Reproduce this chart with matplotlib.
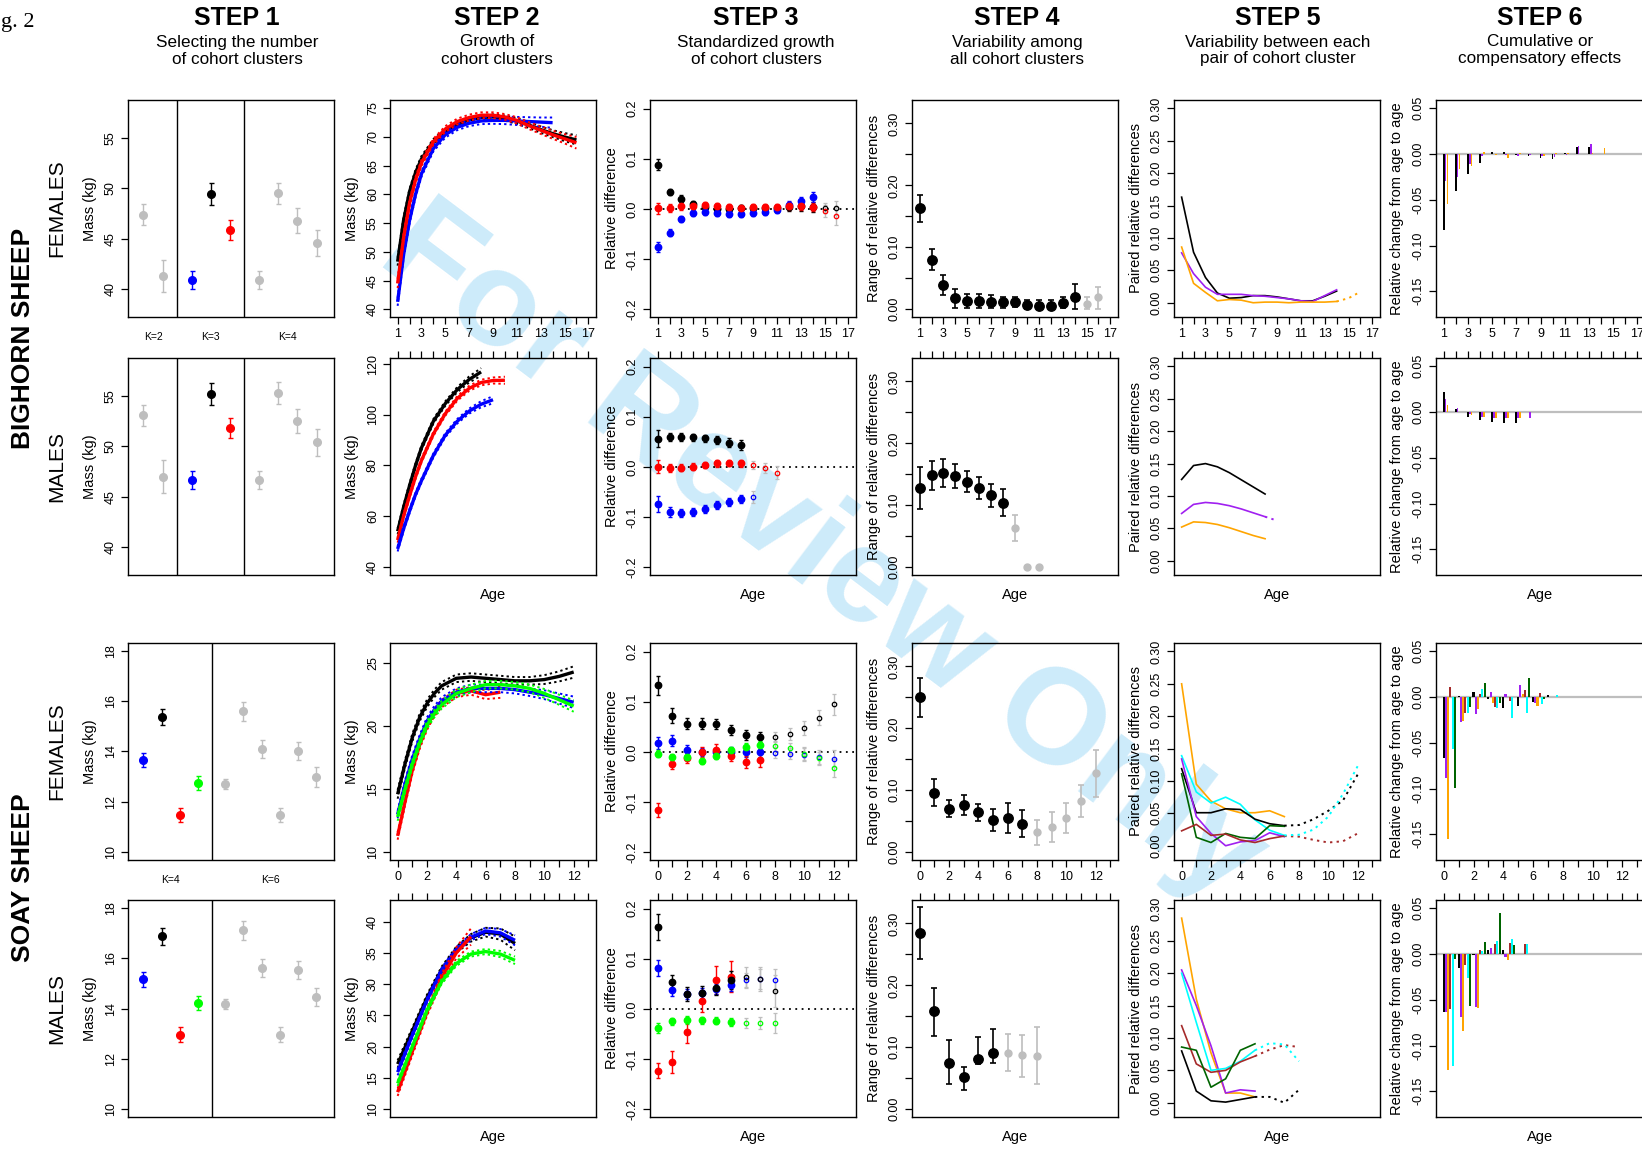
import matplotlib.pyplot as plt

plt.rcParams['font.family'] = ['Liberation Sans', 'DejaVu Sans']

W, H = 1642, 1151
GRAY = '#bebebe'
GREEN = '#00ff00'
PURPLE = '#a020f0'
ORANGE = '#ffa500'
CYAN = '#00ffff'
BROWN = '#a52a2a'
DKGREEN = '#006400'

# ---------------- titles
step_titles = ['STEP 1', 'STEP 2', 'STEP 3', 'STEP 4', 'STEP 5', 'STEP 6']
step_sub1 = ['Selecting the number', 'Growth of', 'Standardized growth',
             'Variability among', 'Variability between each', 'Cumulative or']
step_sub2 = ['of cohort clusters', 'cohort clusters', 'of cohort clusters',
             'all cohort clusters', 'pair of cohort cluster', 'compensatory effects']
ylabels = ['Mass (kg)', 'Mass (kg)', 'Relative difference',
           'Range of relative differences', 'Paired relative differences',
           'Relative change from age to age']

# ---------------- step 1 : cluster means for K candidates
s1_bh_x = [1, 2, 3.5, 4.5, 5.5, 7, 8, 9, 10]
s1_bh_div = [2.75, 6.25]
s1_bh_kx = [1.5, 4.5, 8.5]
s1_bh_klab = ['K=2', 'K=3', 'K=4']
s1_bh_col = [GRAY, GRAY, 'blue', 'black', 'red', GRAY, GRAY, GRAY, GRAY]
s1_bf_mass = [47.4, 41.3, 40.9, 49.4, 45.9, 40.9, 49.5, 46.8, 44.6]
s1_bf_err = [1.05, 1.6, 0.9, 1.1, 1.0, 0.9, 1.05, 1.2, 1.3]
s1_bm_mass = [53.1, 47.0, 46.7, 55.2, 51.8, 46.7, 55.35, 52.55, 50.4]
s1_bm_err = [1.05, 1.6, 0.9, 1.1, 1.0, 0.9, 1.1, 1.2, 1.35]

s1_so_x = [1, 2, 3, 4, 5.5, 6.5, 7.5, 8.5, 9.5, 10.5]
s1_so_div = [4.75]
s1_so_kx = [2.5, 8]
s1_so_klab = ['K=4', 'K=6']
s1_so_col = ['blue', 'black', 'red', GREEN] + [GRAY] * 6
s1_sf_mass = [13.66, 15.37, 11.48, 12.75, 12.72, 15.59, 14.11, 11.48, 14.02, 12.99]
s1_sf_err = [0.29, 0.32, 0.27, 0.27, 0.2, 0.38, 0.36, 0.27, 0.35, 0.38]
s1_sm_mass = [15.15, 16.86, 12.96, 14.23, 14.19, 17.1, 15.59, 12.96, 15.51, 14.46]
s1_sm_err = [0.29, 0.33, 0.29, 0.28, 0.2, 0.37, 0.36, 0.29, 0.36, 0.37]

# ---------------- step 2 : growth curves (fit, CI half width)
bf_age = [1, 1.5, 2, 2.5, 3, 4, 5, 6, 7, 8, 9, 10, 11, 12, 13, 14, 15, 16]
bf_black = [48.3, 55.5, 60.5, 63.8, 66.2, 69.2, 71.0, 72.2, 73.0, 73.4, 73.5, 73.3, 72.8, 72.1, 71.3, 70.6, 70.0, 69.5]
bf_black_ci = [0.7, 0.6, 0.5, 0.5, 0.5, 0.45, 0.45, 0.45, 0.45, 0.45, 0.45, 0.45, 0.5, 0.5, 0.55, 0.6, 0.7, 0.8]
bf_red = [44.5, 52.5, 58.5, 62.5, 65.5, 69.2, 71.4, 72.7, 73.4, 73.8, 73.8, 73.5, 72.9, 72.0, 71.2, 70.4, 69.7, 69.0]
bf_red_ci = [0.8, 0.7, 0.6, 0.55, 0.55, 0.5, 0.5, 0.5, 0.5, 0.5, 0.5, 0.5, 0.55, 0.6, 0.65, 0.7, 0.8, 1.0]
bf_blue = [41.3, 49.5, 55.5, 60.0, 63.6, 68.0, 70.4, 71.7, 72.4, 72.8, 72.9, 72.9, 72.8, 72.7, 72.6, 72.5]
bf_blue_ci = [0.7, 0.6, 0.55, 0.5, 0.5, 0.5, 0.5, 0.5, 0.5, 0.55, 0.6, 0.65, 0.7, 0.75, 0.8, 0.9]

bm_age = [1, 1.5, 2, 2.5, 3, 4, 5, 6, 7, 8, 9, 10]
bm_black = [54, 63.5, 72, 80, 87, 97.5, 104.5, 110, 114, 117]
bm_black_ci = [1.2, 1.0, 1.0, 0.9, 0.9, 0.9, 0.9, 1.0, 1.2, 1.5]
bm_red = [50.5, 60, 68, 75.5, 82, 92.5, 100.5, 106.5, 110.5, 112.8, 113.6, 113.7]
bm_red_ci = [1.0, 0.9, 0.9, 0.8, 0.8, 0.8, 0.8, 0.9, 1.0, 1.1, 1.2, 1.4]
bm_blue = [47, 55, 62, 68.5, 74, 84, 92, 97.5, 101.5, 104.2, 106]
bm_blue_ci = [1.0, 0.9, 0.9, 0.8, 0.8, 0.8, 0.8, 0.9, 1.0, 1.2, 1.4]

sf_age = [0, 0.5, 1, 1.5, 2, 2.5, 3, 4, 5, 6, 7, 8, 9, 10, 11, 12]
sf_black = [14.6, 17.0, 19.1, 20.7, 21.8, 22.6, 23.2, 23.8, 23.9, 23.8, 23.7, 23.6, 23.6, 23.7, 23.95, 24.3]
sf_black_ci = [0.35, 0.3, 0.3, 0.3, 0.3, 0.3, 0.3, 0.3, 0.3, 0.3, 0.3, 0.3, 0.3, 0.35, 0.4, 0.45]
sf_red = [11.3, 14.0, 16.5, 18.5, 20.0, 21.1, 21.8, 22.6, 22.8, 22.5, 22.7]
sf_red_ci = [0.3, 0.3, 0.3, 0.3, 0.3, 0.3, 0.3, 0.3, 0.3, 0.35, 0.45]
sf_blue = [13.0, 15.4, 17.4, 19.0, 20.4, 21.3, 22.0, 22.7, 23.0, 23.0, 23.0, 22.9, 22.7, 22.5, 22.2, 21.9]
sf_blue_ci = [0.3, 0.3, 0.3, 0.3, 0.3, 0.3, 0.3, 0.3, 0.3, 0.3, 0.3, 0.3, 0.3, 0.35, 0.4, 0.45]
sf_green = [12.8, 15.0, 17.0, 18.7, 20.1, 21.0, 21.7, 22.6, 23.0, 23.3, 23.3, 23.2, 23.0, 22.6, 22.1, 21.6]
sf_green_ci = [0.3, 0.3, 0.3, 0.3, 0.3, 0.3, 0.3, 0.3, 0.3, 0.3, 0.3, 0.3, 0.3, 0.35, 0.4, 0.45]

sm_age = [0, 1, 2, 3, 4, 5, 6, 7, 8]
sm_black = [17.2, 22.5, 27.8, 32.3, 35.5, 37.4, 38.3, 38.0, 36.5]
sm_black_ci = [0.6, 0.5, 0.5, 0.5, 0.5, 0.6, 0.7, 0.9, 1.1]
sm_blue = [15.9, 21.8, 27.4, 32.2, 35.5, 37.5, 38.5, 38.2, 37.0]
sm_blue_ci = [0.5, 0.4, 0.4, 0.4, 0.4, 0.5, 0.5, 0.6, 0.8]
sm_red = [12.7, 19.2, 25.5, 31.0, 35.0, 37.6]
sm_red_ci = [0.6, 0.6, 0.6, 0.7, 0.9, 1.3]
sm_green = [14.1, 20.0, 25.8, 30.4, 33.3, 34.8, 35.2, 34.8, 33.8]
sm_green_ci = [0.4, 0.4, 0.4, 0.4, 0.4, 0.4, 0.4, 0.5, 0.6]

# ---------------- step 3 : standardized growth (relative difference)
s3_bf_age = list(range(1, 15))
s3_bf_late_age = [15, 16]
s3_bf_black = [0.088, 0.033, 0.020, 0.010, 0.003, 0.0, 0.0, 0.001, 0.001, 0.001, 0.001, 0.004, 0.005, 0.004]
s3_bf_black_err = [0.011, 0.006, 0.007, 0.006, 0.006, 0.006, 0.006, 0.006, 0.006, 0.006, 0.007, 0.008, 0.008, 0.009]
s3_bf_black_late = [0.002, 0.002]
s3_bf_black_late_err = [0.01, 0.014]
s3_bf_blue = [-0.076, -0.047, -0.020, -0.008, -0.006, -0.008, -0.009, -0.009, -0.007, -0.005, -0.002, 0.008, 0.015, 0.023]
s3_bf_blue_err = [0.01, 0.007, 0.006, 0.006, 0.006, 0.006, 0.006, 0.006, 0.006, 0.006, 0.006, 0.007, 0.009, 0.01]
s3_bf_red = [0.001, 0.002, 0.005, 0.006, 0.007, 0.006, 0.003, 0.002, 0.003, 0.004, 0.004, 0.006, 0.005, 0.004]
s3_bf_red_err = [0.01, 0.007, 0.006, 0.006, 0.006, 0.006, 0.006, 0.006, 0.006, 0.006, 0.006, 0.007, 0.007, 0.008]
s3_bf_red_late = [-0.004, -0.014]
s3_bf_red_late_err = [0.012, 0.018]

s3_bm_age = list(range(1, 9))
s3_bm_black = [0.056, 0.059, 0.060, 0.059, 0.057, 0.053, 0.048, 0.043]
s3_bm_black_err = [0.017, 0.008, 0.008, 0.007, 0.007, 0.008, 0.009, 0.01]
s3_bm_red = [0.001, -0.002, -0.001, 0.001, 0.004, 0.007, 0.008, 0.007]
s3_bm_red_err = [0.013, 0.008, 0.006, 0.006, 0.006, 0.006, 0.006, 0.007]
s3_bm_red_late_age = [9, 10, 11]
s3_bm_red_late = [0.004, -0.002, -0.011]
s3_bm_red_late_err = [0.008, 0.01, 0.013]
s3_bm_blue = [-0.074, -0.090, -0.092, -0.089, -0.083, -0.076, -0.069, -0.063]
s3_bm_blue_err = [0.016, 0.01, 0.008, 0.008, 0.008, 0.008, 0.008, 0.008]
s3_bm_blue_late_age = [9]
s3_bm_blue_late = [-0.060]
s3_bm_blue_late_err = [0.012]

s3_sf_age = list(range(0, 8))
s3_sf_late_age = [8, 9, 10, 11, 12]
s3_sf_black = [0.133, 0.072, 0.056, 0.056, 0.055, 0.044, 0.034, 0.029]
s3_sf_black_err = [0.019, 0.015, 0.011, 0.011, 0.01, 0.01, 0.01, 0.01]
s3_sf_black_late = [0.03, 0.036, 0.048, 0.068, 0.095]
s3_sf_black_late_err = [0.01, 0.012, 0.014, 0.015, 0.021]
s3_sf_blue = [0.017, 0.022, 0.004, 0.0, 0.0, 0.001, 0.0, 0.0]
s3_sf_blue_err = [0.012, 0.011, 0.009, 0.008, 0.008, 0.008, 0.009, 0.009]
s3_sf_blue_late = [-0.001, -0.003, -0.005, -0.01, -0.013]
s3_sf_blue_late_err = [0.01, 0.01, 0.012, 0.014, 0.016]
s3_sf_red = [-0.115, -0.023, -0.012, 0.0, 0.003, -0.007, -0.020, -0.015]
s3_sf_red_err = [0.014, 0.011, 0.01, 0.009, 0.012, 0.011, 0.012, 0.014]
s3_sf_green = [-0.003, -0.010, -0.010, -0.018, -0.007, 0.003, 0.010, 0.014]
s3_sf_green_err = [0.007, 0.006, 0.006, 0.006, 0.006, 0.006, 0.007, 0.008]
s3_sf_green_late = [0.012, 0.007, -0.003, -0.012, -0.032]
s3_sf_green_late_err = [0.01, 0.01, 0.012, 0.013, 0.018]

s3_sm_age = list(range(0, 6))
s3_sm_late_age = [6, 7, 8]
s3_sm_black = [0.163, 0.053, 0.029, 0.031, 0.042, 0.057]
s3_sm_black_err = [0.026, 0.015, 0.014, 0.014, 0.015, 0.018]
s3_sm_black_late = [0.064, 0.060, 0.036]
s3_sm_black_late_err = [0.02, 0.024, 0.032]
s3_sm_blue = [0.082, 0.037, 0.029, 0.032, 0.040, 0.047]
s3_sm_blue_err = [0.016, 0.012, 0.01, 0.01, 0.01, 0.012]
s3_sm_blue_late = [0.057, 0.060, 0.058]
s3_sm_blue_late_err = [0.015, 0.02, 0.022]
s3_sm_red = [-0.123, -0.105, -0.045, 0.016, 0.058, 0.064]
s3_sm_red_err = [0.015, 0.022, 0.022, 0.022, 0.028, 0.031]
s3_sm_green = [-0.037, -0.024, -0.021, -0.022, -0.023, -0.025]
s3_sm_green_err = [0.01, 0.007, 0.008, 0.007, 0.007, 0.008]
s3_sm_green_late = [-0.027, -0.028, -0.028]
s3_sm_green_late_err = [0.01, 0.012, 0.02]

# ---------------- step 4 : range of relative differences (value, lower, upper)
s4_bf_age = list(range(1, 17))
s4_bf_n = 14
s4_bf = [0.163, 0.080, 0.039, 0.017, 0.013, 0.013, 0.012, 0.011, 0.011, 0.007, 0.004, 0.004, 0.010, 0.020, 0.008, 0.019]
s4_bf_lo = [0.141, 0.063, 0.023, 0.002, 0.001, 0.001, 0.001, 0.002, 0.003, 0.0, 0.0, 0.0, 0.001, 0.0, 0.0, 0.0]
s4_bf_hi = [0.185, 0.097, 0.055, 0.032, 0.025, 0.025, 0.023, 0.020, 0.019, 0.014, 0.014, 0.014, 0.019, 0.041, 0.020, 0.036]

s4_bm_age = list(range(1, 12))
s4_bm_n = 8
s4_bm = [0.128, 0.148, 0.152, 0.147, 0.138, 0.128, 0.116, 0.104, 0.063, 0.0, 0.0]
s4_bm_lo = [0.094, 0.124, 0.130, 0.128, 0.121, 0.110, 0.097, 0.082, 0.042, 0.0, 0.0]
s4_bm_hi = [0.162, 0.172, 0.174, 0.166, 0.155, 0.146, 0.135, 0.126, 0.084, 0.0, 0.0]

s4_sf_age = list(range(0, 13))
s4_sf_n = 8
s4_sf = [0.250, 0.096, 0.070, 0.076, 0.064, 0.052, 0.055, 0.046, 0.032, 0.040, 0.055, 0.083, 0.127]
s4_sf_lo = [0.219, 0.074, 0.056, 0.060, 0.050, 0.034, 0.031, 0.024, 0.012, 0.016, 0.031, 0.057, 0.089]
s4_sf_hi = [0.281, 0.118, 0.084, 0.092, 0.078, 0.070, 0.079, 0.068, 0.052, 0.064, 0.079, 0.109, 0.165]

s4_sm_age = list(range(0, 9))
s4_sm_n = 6
s4_sm = [0.285, 0.158, 0.074, 0.052, 0.081, 0.090, 0.090, 0.088, 0.086]
s4_sm_lo = [0.242, 0.118, 0.041, 0.030, 0.072, 0.074, 0.062, 0.052, 0.041]
s4_sm_hi = [0.327, 0.196, 0.112, 0.068, 0.116, 0.130, 0.122, 0.120, 0.132]

# ---------------- step 5 : paired relative differences
s5_bf_age = list(range(1, 15))
s5_bf_black = [0.163, 0.078, 0.039, 0.015, 0.007, 0.008, 0.011, 0.011, 0.009, 0.006, 0.003, 0.003, 0.010, 0.018]
s5_bf_purple = [0.077, 0.045, 0.024, 0.013, 0.013, 0.013, 0.011, 0.010, 0.008, 0.006, 0.003, 0.002, 0.011, 0.020]
s5_bf_orange = [0.086, 0.030, 0.016, 0.003, 0.005, 0.004, 0.0, 0.001, 0.001, 0.0, 0.001, 0.001, 0.001, 0.002]
s5_bf_orange_ext_age = [14, 15, 16]
s5_bf_orange_ext = [0.002, 0.007, 0.017]

s5_bm_age = list(range(1, 9))
s5_bm_black = [0.1255, 0.147, 0.150, 0.145, 0.136, 0.125, 0.114, 0.103]
s5_bm_purple = [0.073, 0.087, 0.090, 0.0885, 0.085, 0.080, 0.074, 0.068]
s5_bm_orange = [0.052, 0.060, 0.059, 0.056, 0.051, 0.045, 0.039, 0.034]
s5_bm_purple_ext_age = [8, 9]
s5_bm_purple_ext = [0.068, 0.062]

s5_sf_age = list(range(0, 8))
s5_sf_ext_age = [7, 8, 9, 10, 11, 12]
s5_sf_black = [0.119, 0.051, 0.051, 0.057, 0.056, 0.041, 0.034, 0.031]
s5_sf_purple = [0.134, 0.045, 0.019, 0.0, 0.006, 0.008, 0.020, 0.014]
s5_sf_orange = [0.250, 0.095, 0.069, 0.057, 0.051, 0.051, 0.054, 0.045]
s5_sf_brown = [0.023, 0.033, 0.016, 0.018, 0.009, 0.005, 0.011, 0.015]
s5_sf_cyan = [0.139, 0.083, 0.066, 0.075, 0.064, 0.040, 0.024, 0.016]
s5_sf_dkgreen = [0.111, 0.013, 0.005, 0.019, 0.013, 0.011, 0.031, 0.030]
s5_sf_black_ext = [0.031, 0.032, 0.041, 0.054, 0.070, 0.110]
s5_sf_brown_ext = [0.015, 0.014, 0.009, 0.005, 0.007, 0.019]
s5_sf_cyan_ext = [0.016, 0.017, 0.025, 0.045, 0.080, 0.123]

s5_sm_age = list(range(0, 6))
s5_sm_ext_age = [5, 6, 7, 8]
s5_sm_black = [0.080, 0.018, 0.003, 0.001, 0.005, 0.009]
s5_sm_purple = [0.205, 0.150, 0.088, 0.015, 0.020, 0.018]
s5_sm_orange = [0.285, 0.160, 0.077, 0.015, 0.015, 0.009]
s5_sm_brown = [0.119, 0.060, 0.047, 0.050, 0.063, 0.072]
s5_sm_cyan = [0.200, 0.124, 0.050, 0.053, 0.064, 0.081]
s5_sm_dkgreen = [0.086, 0.081, 0.024, 0.037, 0.081, 0.091]
s5_sm_black_ext = [0.009, 0.009, 0.0, 0.020]
s5_sm_brown_ext = [0.072, 0.082, 0.089, 0.086]
s5_sm_cyan_ext = [0.081, 0.092, 0.090, 0.064]

# ---------------- step 6 : relative change from age to age
s6_bf_age = list(range(1, 15))
s6_bf_black = [-0.083, -0.0405, -0.022, -0.0095, 0.002, 0.002, -0.001, -0.002, -0.004, -0.005, 0.001, 0.008, 0.008, 0.0]
s6_bf_purple = [-0.029, -0.025, -0.011, -0.002, 0.0, -0.001, -0.002, -0.001, -0.002, -0.003, -0.0015, 0.009, 0.011, 0.0]
s6_bf_orange = [-0.055, -0.016, -0.013, 0.0025, -0.0015, -0.004, 0.0015, 0.0, -0.002, 0.001, 0.001, 0.0, 0.0015, 0.007]

s6_bm_age = list(range(1, 9))
s6_bm_black = [0.0215, 0.0035, -0.005, -0.009, -0.011, -0.012, -0.012, 0.0]
s6_bm_purple = [0.0146, 0.004, -0.0025, -0.0055, -0.006, -0.0065, -0.0065, -0.0065]
s6_bm_orange = [0.0077, -0.0004, -0.0036, -0.0055, -0.006, -0.0065, -0.006, 0.0]

s6_sf_age = list(range(0, 8))
s6_sf_black = [-0.067, 0.001, 0.006, -0.002, -0.012, -0.010, -0.005, 0.002]
s6_sf_purple = [-0.0887, -0.027, -0.0186, 0.005, 0.003, 0.0135, -0.006, 0.0]
s6_sf_orange = [-0.155, -0.0266, -0.013, -0.006, 0.0, 0.003, -0.010, 0.0]
s6_sf_brown = [0.0106, -0.0175, 0.0036, -0.011, -0.004, 0.0077, 0.004, 0.0]
s6_sf_cyan = [-0.057, -0.017, 0.0088, -0.012, -0.023, -0.017, -0.008, 0.002]
s6_sf_dkgreen = [-0.099, -0.011, 0.0157, -0.006, 0.0, 0.0205, -0.002, 0.0]

s6_sm_age = list(range(0, 6))
s6_sm_black = [-0.063, -0.0157, -0.001, 0.0044, 0.0047, 0.0]
s6_sm_purple = [-0.063, -0.0686, -0.0577, 0.0066, -0.003, 0.0]
s6_sm_orange = [-0.127, -0.084, -0.0588, 0.0, -0.0066, 0.0]
s6_sm_brown = [-0.0595, -0.012, 0.0044, 0.0106, 0.012, 0.0106]
s6_sm_cyan = [-0.122, -0.0266, 0.0036, 0.0142, 0.0164, 0.0106]
s6_sm_dkgreen = [-0.005, -0.057, 0.0135, 0.045, 0.0102, 0.0]

# ---------------- layout (pixels)
col_left = [128, 390, 650, 912, 1174, 1436]
title_shift = [6, 4, 3, 2, 1, 1]
row_top = [100, 358, 643, 900]
BW, BH = 206, 217

fig = plt.figure(figsize=(W / 100, H / 100), dpi=100)


def new_ax(r, c):
    w = BW + 3 if c == 5 else BW
    ax = fig.add_axes([col_left[c] / W, 1 - (row_top[r] + BH) / H, w / W, BH / H])
    ax.set_facecolor('none')
    for s in ax.spines.values():
        s.set_linewidth(1.0)
    ax.tick_params(direction='out', length=5, width=0.9, labelsize=9, pad=3)
    return ax


def set_y(ax, ticks, labels, lim, text):
    ax.set_ylim(*lim)
    ax.set_yticks(ticks)
    ax.set_yticklabels(labels, rotation=90, va='center')
    ax.set_ylabel(text, fontsize=10.5, va='center')
    ax.yaxis.set_label_coords(-38 / BW, 0.5)


def set_x(ax, r):
    if r < 2:
        ticks = list(range(1, 18))
        labels = [str(t) if t % 2 else '' for t in ticks]
        ax.set_xlim(0.36, 17.64)
    else:
        ticks = list(range(0, 14))
        labels = [str(t) if t % 2 == 0 else '' for t in ticks]
        ax.set_xlim(-0.52, 13.52)
    ax.set_xticks(ticks)
    if r in (0, 2):
        ax.set_xticklabels(labels)
    else:
        ax.xaxis.tick_top()
        ax.set_xticklabels([''] * len(ticks))
        ax.set_xlabel('Age', fontsize=10.5, va='center')
        ax.xaxis.set_label_coords(0.5, -20 / BH)


def tick_lab(vals, fmt):
    return [fmt.format(v) for v in vals]


# ---------------- STEP 1
s1_rows = [
    (s1_bh_x, s1_bf_mass, s1_bf_err, s1_bh_col, s1_bh_div, s1_bh_kx, s1_bh_klab),
    (s1_bh_x, s1_bm_mass, s1_bm_err, s1_bh_col, s1_bh_div, s1_bh_kx, s1_bh_klab),
    (s1_so_x, s1_sf_mass, s1_sf_err, s1_so_col, s1_so_div, s1_so_kx, s1_so_klab),
    (s1_so_x, s1_sm_mass, s1_sm_err, s1_so_col, s1_so_div, s1_so_kx, s1_so_klab),
]
for r, (xs, m, e, cols, divs, kx, klab) in enumerate(s1_rows):
    ax = new_ax(r, 0)
    for x, v, er, c in zip(xs, m, e, cols):
        ax.errorbar(x, v, yerr=er, fmt='o', color=c, ms=5.5, capsize=1.8,
                    elinewidth=1, capthick=1)
    for d in divs:
        ax.axvline(d, color='black', lw=1)
    if r < 2:
        ax.set_xlim(0.2, 10.9)
        set_y(ax, [40, 45, 50, 55], ['40', '45', '50', '55'], (37.2, 58.8), 'Mass (kg)')
    else:
        ax.set_xlim(0.16, 11.47)
        set_y(ax, [10, 12, 14, 16, 18], ['10', '12', '14', '16', '18'], (9.7, 18.3), 'Mass (kg)')
    ax.set_xticks([])
    if r in (0, 2):
        for x, lab in zip(kx, klab):
            ax.text(x, -20 / BH, lab, fontsize=7.5, ha='center', va='center',
                    transform=ax.get_xaxis_transform())

# ---------------- STEP 2
s2_rows = [
    [(bf_age, bf_black, bf_black_ci, 'black'), (bf_age, bf_blue, bf_blue_ci, 'blue'),
     (bf_age, bf_red, bf_red_ci, 'red')],
    [(bm_age, bm_black, bm_black_ci, 'black'), (bm_age, bm_red, bm_red_ci, 'red'),
     (bm_age, bm_blue, bm_blue_ci, 'blue')],
    [(sf_age, sf_black, sf_black_ci, 'black'), (sf_age, sf_red, sf_red_ci, 'red'),
     (sf_age, sf_blue, sf_blue_ci, 'blue'), (sf_age, sf_green, sf_green_ci, GREEN)],
    [(sm_age, sm_black, sm_black_ci, 'black'), (sm_age, sm_blue, sm_blue_ci, 'blue'),
     (sm_age, sm_red, sm_red_ci, 'red'), (sm_age, sm_green, sm_green_ci, GREEN)],
]
s2_y = [
    (list(range(40, 80, 5)), (38.66, 76.45)),
    ([40, 60, 80, 100, 120], (36.7, 122.5)),
    ([10, 15, 20, 25], (9.39, 26.6)),
    (list(range(10, 45, 5)), (8.73, 43.45)),
]
for r, curves in enumerate(s2_rows):
    ax = new_ax(r, 1)
    for age, fit, ci, c in curves:
        a = age[:len(fit)]
        lo = [f - h for f, h in zip(fit, ci)]
        hi = [f + h for f, h in zip(fit, ci)]
        ax.plot(a, lo, color=c, lw=1.4, ls=(0, (1.2, 1.6)))
        ax.plot(a, hi, color=c, lw=1.4, ls=(0, (1.2, 1.6)))
        ax.plot(a, fit, color=c, lw=2.4, solid_capstyle='butt')
    ticks, lim = s2_y[r]
    set_y(ax, ticks, [str(t) for t in ticks], lim, 'Mass (kg)')
    set_x(ax, r)

# ---------------- STEP 3
s3_rows = [
    [(s3_bf_age, s3_bf_black, s3_bf_black_err, 'black', s3_bf_late_age, s3_bf_black_late, s3_bf_black_late_err),
     (s3_bf_age, s3_bf_blue, s3_bf_blue_err, 'blue', [], [], []),
     (s3_bf_age, s3_bf_red, s3_bf_red_err, 'red', s3_bf_late_age, s3_bf_red_late, s3_bf_red_late_err)],
    [(s3_bm_age, s3_bm_black, s3_bm_black_err, 'black', [], [], []),
     (s3_bm_age, s3_bm_red, s3_bm_red_err, 'red', s3_bm_red_late_age, s3_bm_red_late, s3_bm_red_late_err),
     (s3_bm_age, s3_bm_blue, s3_bm_blue_err, 'blue', s3_bm_blue_late_age, s3_bm_blue_late, s3_bm_blue_late_err)],
    [(s3_sf_age, s3_sf_black, s3_sf_black_err, 'black', s3_sf_late_age, s3_sf_black_late, s3_sf_black_late_err),
     (s3_sf_age, s3_sf_blue, s3_sf_blue_err, 'blue', s3_sf_late_age, s3_sf_blue_late, s3_sf_blue_late_err),
     (s3_sf_age, s3_sf_red, s3_sf_red_err, 'red', [], [], []),
     (s3_sf_age, s3_sf_green, s3_sf_green_err, GREEN, s3_sf_late_age, s3_sf_green_late, s3_sf_green_late_err)],
    [(s3_sm_age, s3_sm_green, s3_sm_green_err, GREEN, s3_sm_late_age, s3_sm_green_late, s3_sm_green_late_err),
     (s3_sm_age, s3_sm_red, s3_sm_red_err, 'red', [], [], []),
     (s3_sm_age, s3_sm_blue, s3_sm_blue_err, 'blue', s3_sm_late_age, s3_sm_blue_late, s3_sm_blue_late_err),
     (s3_sm_age, s3_sm_black, s3_sm_black_err, 'black', s3_sm_late_age, s3_sm_black_late, s3_sm_black_late_err)],
]
s3_ticks = [-0.2, -0.1, 0.0, 0.1, 0.2]
for r, series in enumerate(s3_rows):
    ax = new_ax(r, 2)
    ax.axhline(0, color='black', ls=(0, (1, 2.5)), lw=1.3, zorder=1)
    for age, v, e, c, lage, lv, le in series:
        if lage:
            ax.errorbar(lage, lv, yerr=le, fmt='o', mfc='none', mec=c, ecolor=GRAY,
                        ms=3.2, mew=0.9, capsize=1.4, elinewidth=1, capthick=1)
        ax.errorbar(age, v, yerr=e, fmt='o', color=c, ms=4.6, capsize=1.4,
                    elinewidth=1, capthick=1)
    set_y(ax, s3_ticks, tick_lab(s3_ticks, '{:.1f}'), (-0.215, 0.217), 'Relative difference')
    set_x(ax, r)

# ---------------- STEP 4
s4_rows = [
    (s4_bf_age, s4_bf, s4_bf_lo, s4_bf_hi, s4_bf_n),
    (s4_bm_age, s4_bm, s4_bm_lo, s4_bm_hi, s4_bm_n),
    (s4_sf_age, s4_sf, s4_sf_lo, s4_sf_hi, s4_sf_n),
    (s4_sm_age, s4_sm, s4_sm_lo, s4_sm_hi, s4_sm_n),
]
s4_ticks = [0.0, 0.05, 0.10, 0.15, 0.20, 0.25, 0.30]
s4_labels = ['0.00', '', '0.10', '', '0.20', '', '0.30']
for r, (age, v, lo, hi, n) in enumerate(s4_rows):
    ax = new_ax(r, 3)
    err = [[a - b for a, b in zip(v, lo)], [b - a for a, b in zip(v, hi)]]
    ax.errorbar(age[n:], v[n:], yerr=[err[0][n:], err[1][n:]], fmt='o', color=GRAY,
                ms=5, capsize=2.2, elinewidth=1.2, capthick=1.2)
    ax.errorbar(age[:n], v[:n], yerr=[err[0][:n], err[1][:n]], fmt='o', color='black',
                ms=6.8, capsize=2.2, elinewidth=1.2, capthick=1.2)
    set_y(ax, s4_ticks, s4_labels, (-0.013, 0.338), 'Range of relative differences')
    set_x(ax, r)

# ---------------- STEP 5
s5_rows = [
    [(s5_bf_age, s5_bf_black, 'black'), (s5_bf_age, s5_bf_purple, PURPLE),
     (s5_bf_age, s5_bf_orange, ORANGE), (s5_bf_orange_ext_age, s5_bf_orange_ext, ORANGE, ':')],
    [(s5_bm_age, s5_bm_black, 'black'), (s5_bm_age, s5_bm_purple, PURPLE),
     (s5_bm_age, s5_bm_orange, ORANGE), (s5_bm_purple_ext_age, s5_bm_purple_ext, PURPLE, ':')],
    [(s5_sf_age, s5_sf_orange, ORANGE), (s5_sf_age, s5_sf_cyan, CYAN),
     (s5_sf_age, s5_sf_black, 'black'), (s5_sf_age, s5_sf_purple, PURPLE),
     (s5_sf_age, s5_sf_dkgreen, DKGREEN), (s5_sf_age, s5_sf_brown, BROWN),
     (s5_sf_ext_age, s5_sf_black_ext, 'black', ':'), (s5_sf_ext_age, s5_sf_brown_ext, BROWN, ':'),
     (s5_sf_ext_age, s5_sf_cyan_ext, CYAN, ':')],
    [(s5_sm_age, s5_sm_orange, ORANGE), (s5_sm_age, s5_sm_purple, PURPLE),
     (s5_sm_age, s5_sm_cyan, CYAN), (s5_sm_age, s5_sm_brown, BROWN),
     (s5_sm_age, s5_sm_dkgreen, DKGREEN), (s5_sm_age, s5_sm_black, 'black'),
     (s5_sm_ext_age, s5_sm_black_ext, 'black', ':'), (s5_sm_ext_age, s5_sm_brown_ext, BROWN, ':'),
     (s5_sm_ext_age, s5_sm_cyan_ext, CYAN, ':')],
]
s5_ticks = [0.0, 0.05, 0.10, 0.15, 0.20, 0.25, 0.30]
for r, lines in enumerate(s5_rows):
    ax = new_ax(r, 4)
    for ln in lines:
        if len(ln) == 4:
            ax.plot(ln[0], ln[1], color=ln[2], lw=1.4, ls=(0, (1.2, 2.2)))
        else:
            ax.plot(ln[0], ln[1], color=ln[2], lw=1.2)
    set_y(ax, s5_ticks, tick_lab(s5_ticks, '{:.2f}'), (-0.022, 0.313), 'Paired relative differences')
    set_x(ax, r)

# ---------------- STEP 6
s6_rows = [
    (s6_bf_age, [s6_bf_black, s6_bf_purple, s6_bf_orange], ['black', PURPLE, ORANGE]),
    (s6_bm_age, [s6_bm_black, s6_bm_purple, s6_bm_orange], ['black', PURPLE, ORANGE]),
    (s6_sf_age, [s6_sf_black, s6_sf_purple, s6_sf_orange, s6_sf_brown, s6_sf_cyan, s6_sf_dkgreen],
     ['black', PURPLE, ORANGE, BROWN, CYAN, DKGREEN]),
    (s6_sm_age, [s6_sm_black, s6_sm_purple, s6_sm_orange, s6_sm_brown, s6_sm_cyan, s6_sm_dkgreen],
     ['black', PURPLE, ORANGE, BROWN, CYAN, DKGREEN]),
]
s6_ticks = [-0.15, -0.10, -0.05, 0.0, 0.05]
for r, (age, vals, cols) in enumerate(s6_rows):
    ax = new_ax(r, 5)
    ax.axhline(0, color=GRAY, lw=1.6, zorder=1)
    for k, (v, c) in enumerate(zip(vals, cols)):
        ax.bar([a + 0.15 * k for a in age], v, width=0.14, color=c, lw=0, zorder=2)
    set_y(ax, s6_ticks, tick_lab(s6_ticks, '{:.2f}'), (-0.178, 0.059),
          'Relative change from age to age')
    set_x(ax, r)

# ---------------- figure texts
for c in range(6):
    xc = (col_left[c] + BW / 2 + title_shift[c]) / W
    fig.text(xc, 1 - 18 / H, step_titles[c], ha='center', va='center', fontsize=18, weight='bold')
    fig.text(xc, 1 - 42 / H, step_sub1[c], ha='center', va='center', fontsize=12.3)
    fig.text(xc, 1 - 59 / H, step_sub2[c], ha='center', va='center', fontsize=12.3)

fig.text(23 / W, 1 - 338 / H, 'BIGHORN SHEEP', rotation=90, ha='center', va='center',
         fontsize=19, weight='bold')
fig.text(23 / W, 1 - 878 / H, 'SOAY SHEEP', rotation=90, ha='center', va='center',
         fontsize=19, weight='bold')
for r, lab in enumerate(['FEMALES', 'MALES', 'FEMALES', 'MALES']):
    fig.text(57 / W, 1 - (row_top[r] + BH / 2) / H, lab, rotation=90, ha='center',
             va='center', fontsize=15)

fig.text(1 / W, 1 - 22 / H, 'g. 2', ha='left', va='center', fontsize=16,
         family='Liberation Serif')

fig.text(822 / W, 1 - 555 / H, 'For Review Only', rotation=-37, ha='center', va='center',
         fontsize=98, weight='bold', color='#cdebfa', zorder=-1)

fig.savefig('out.png', dpi=100)
